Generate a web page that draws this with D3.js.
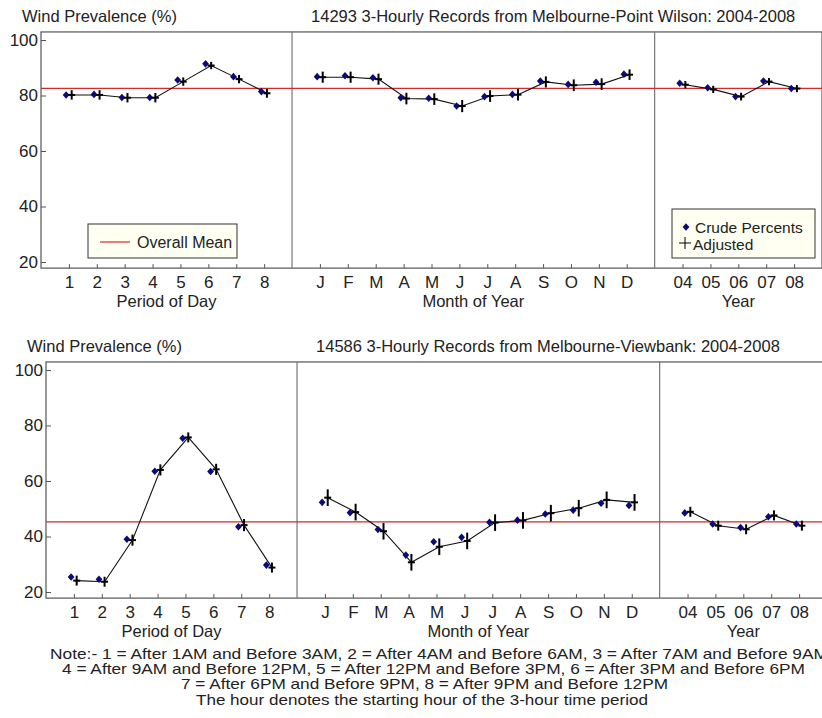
<!doctype html>
<html>
<head>
<meta charset="utf-8">
<title>Wind Prevalence</title>
<script src="https://cdn.jsdelivr.net/npm/d3@7"></script>
<style>
    body { margin: 0; background: #fff; }
    svg { display: block; font-family: "Liberation Sans", Arial, sans-serif; }
</style>
</head>
<body>
<svg width="822" height="718"></svg>
<script>
    // tick labels
    var periodLabels = ["1", "2", "3", "4", "5", "6", "7", "8"];
    var monthLabels = ["J", "F", "M", "A", "M", "J", "J", "A", "S", "O", "N", "D"];
    var yearLabels = ["04", "05", "06", "07", "08"];
    var yTicks = [20, 40, 60, 80, 100];

    // Melbourne-Point Wilson
    var pwMean = 82.6;
    var pwPeriodCrude = [80.2, 80.4, 79.3, 79.3, 85.6, 91.4, 86.8, 81.4];
    var pwPeriodAdj = [80.2, 80.2, 79.2, 79.2, 85.0, 90.8, 85.9, 80.8];
    var pwPeriodErr = [1.7, 1.7, 1.7, 1.7, 1.5, 1.3, 1.5, 1.6];
    var pwMonthCrude = [86.8, 87.1, 86.4, 79.2, 79.0, 76.2, 79.6, 80.4, 85.2, 84.0, 84.8, 87.7];
    var pwMonthAdj = [86.6, 86.6, 85.9, 78.9, 78.7, 76.2, 79.8, 80.3, 84.9, 83.7, 84.1, 87.5];
    var pwMonthErr = [2.0, 2.0, 2.0, 2.1, 2.1, 2.2, 2.1, 2.1, 2.0, 2.1, 2.1, 1.9];
    var pwYearCrude = [84.4, 82.8, 79.6, 85.2, 82.5];
    var pwYearAdj = [83.9, 82.2, 79.6, 85.0, 82.5];
    var pwYearErr = [1.3, 1.3, 1.4, 1.3, 1.3];

    // Melbourne-Viewbank
    var vbMean = 45.3;
    var vbPeriodCrude = [25.4, 24.6, 39.0, 63.5, 75.4, 63.4, 43.5, 29.7];
    var vbPeriodAdj = [24.1, 23.7, 38.7, 64.0, 75.7, 64.2, 44.1, 28.8];
    var vbPeriodErr = [1.8, 1.8, 2.0, 2.0, 1.8, 2.0, 2.2, 1.8];
    var vbMonthCrude = [52.3, 48.6, 42.5, 33.3, 38.1, 39.7, 45.1, 45.9, 48.1, 49.5, 52.0, 51.2];
    var vbMonthAdj = [54.0, 48.8, 41.9, 30.7, 36.3, 38.4, 45.0, 45.8, 48.4, 50.2, 53.2, 52.3];
    var vbMonthErr = [3.0, 3.0, 3.0, 3.0, 3.0, 3.0, 3.0, 3.0, 3.0, 3.0, 3.0, 3.0];
    var vbYearCrude = [48.5, 44.5, 43.2, 47.1, 44.5];
    var vbYearAdj = [48.9, 43.9, 42.6, 47.6, 43.9];
    var vbYearErr = [1.8, 1.8, 1.8, 1.8, 1.8];

    var noteLines = [
        "Note:- 1 = After 1AM and Before 3AM, 2 = After 4AM and Before 6AM, 3 = After 7AM and Before 9AM",
        "4 = After 9AM and Before 12PM, 5 = After 12PM and Before 3PM, 6 = After 3PM and Before 6PM",
        "7 = After 6PM and Before 9PM, 8 = After 9PM and Before 12PM",
        "The hour denotes the starting hour of the 3-hour time period"
    ];

    var svg = d3.select("svg");
    var textColor = "#222";

    function diamond(cx, cy) {
        return "M" + cx + "," + (cy - 3.8) + "L" + (cx + 3.4) + "," + cy +
            "L" + cx + "," + (cy + 3.8) + "L" + (cx - 3.4) + "," + cy + "Z";
    }

    function drawPanel(cfg) {
        var g = svg.append("g");
        var x = d3.scaleLinear().domain([0, 28]).range([cfg.left, cfg.right]);
        var y = d3.scaleLinear().domain([20, 100]).range([cfg.y20, cfg.y100]);
        var top = y(102.9), bottom = y(17.8);

        var groups = [
            {start: 0, labels: periodLabels, crude: cfg.period[0], adj: cfg.period[1], err: cfg.period[2], name: "Period of Day"},
            {start: 9, labels: monthLabels, crude: cfg.month[0], adj: cfg.month[1], err: cfg.month[2], name: "Month of Year"},
            {start: 22, labels: yearLabels, crude: cfg.year[0], adj: cfg.year[1], err: cfg.year[2], name: "Year"}
        ];

        // titles
        g.append("text").attr("x", cfg.left - 19).attr("y", top - 10)
            .attr("font-size", 16.5).attr("fill", textColor).text("Wind Prevalence (%)");
        g.append("text").attr("x", x(9) + 19).attr("y", top - 10)
            .attr("font-size", 16.5).attr("fill", textColor).text(cfg.title);

        // frame + separators
        g.append("rect").attr("x", cfg.left).attr("y", top)
            .attr("width", cfg.right - cfg.left).attr("height", bottom - top)
            .attr("fill", "none").attr("stroke", "#555").attr("stroke-width", 1.2);
        [9, 22].forEach(function (s) {
            g.append("line").attr("x1", x(s)).attr("x2", x(s)).attr("y1", top).attr("y2", bottom)
                .attr("stroke", "#777").attr("stroke-width", 1.2);
        });

        // y axis
        var yAxis = g.append("g").attr("transform", "translate(" + cfg.left + ",0)")
            .call(d3.axisLeft(y).tickValues(yTicks).tickSizeInner(-5).tickSizeOuter(0).tickPadding(3));
        yAxis.select(".domain").remove();
        yAxis.selectAll("line").attr("stroke", "#555");
        yAxis.selectAll("text").attr("font-size", 17).attr("fill", textColor)
            .attr("font-family", "Liberation Sans, Arial, sans-serif");

        // x axes
        groups.forEach(function (grp) {
            var pos = grp.labels.map(function (d, i) { return grp.start + i + 1; });
            var xAxis = g.append("g").attr("transform", "translate(0," + bottom + ")")
                .call(d3.axisBottom(x).tickValues(pos).tickSizeInner(-4).tickSizeOuter(0).tickPadding(8)
                    .tickFormat(function (d) { return grp.labels[d - grp.start - 1]; }));
            xAxis.select(".domain").remove();
            xAxis.selectAll("line").attr("stroke", "#555");
            xAxis.selectAll("text").attr("font-size", 17).attr("fill", textColor)
                .attr("font-family", "Liberation Sans, Arial, sans-serif");
            g.append("text").attr("x", x(grp.start + (grp.labels.length + 1) / 2)).attr("y", bottom + 39)
                .attr("text-anchor", "middle").attr("font-size", 16.5).attr("fill", textColor).text(grp.name);
        });

        // overall mean
        g.append("line").attr("x1", cfg.left).attr("x2", cfg.right)
            .attr("y1", y(cfg.mean)).attr("y2", y(cfg.mean))
            .attr("stroke", "#d42a2a").attr("stroke-width", 1.2);

        groups.forEach(function (grp) {
            var pts = grp.adj.map(function (v, i) { return [x(grp.start + i + 1.1), y(v)]; });
            g.append("path").attr("d", d3.line()(pts))
                .attr("fill", "none").attr("stroke", "#111").attr("stroke-width", 1.1);

            g.selectAll(null).data(grp.crude).enter().append("path")
                .attr("d", function (v, i) { return diamond(x(grp.start + i + 0.9), y(v)); })
                .attr("fill", "#0a0a78");

            grp.adj.forEach(function (v, i) {
                var cx = x(grp.start + i + 1.1);
                g.append("line").attr("x1", cx).attr("x2", cx)
                    .attr("y1", y(v - grp.err[i])).attr("y2", y(v + grp.err[i]))
                    .attr("stroke", "#000").attr("stroke-width", 2);
                g.append("line").attr("x1", cx - 3.5).attr("x2", cx + 3.5)
                    .attr("y1", y(v)).attr("y2", y(v))
                    .attr("stroke", "#000").attr("stroke-width", 2);
            });
        });
        return {x: x, y: y, top: top, bottom: bottom};
    }

    drawPanel({
        left: 41, right: 822, y100: 40, y20: 262, mean: pwMean,
        title: "14293 3-Hourly Records from Melbourne-Point Wilson: 2004-2008",
        period: [pwPeriodCrude, pwPeriodAdj, pwPeriodErr],
        month: [pwMonthCrude, pwMonthAdj, pwMonthErr],
        year: [pwYearCrude, pwYearAdj, pwYearErr]
    });
    drawPanel({
        left: 46, right: 827, y100: 370, y20: 592, mean: vbMean,
        title: "14586 3-Hourly Records from Melbourne-Viewbank: 2004-2008",
        period: [vbPeriodCrude, vbPeriodAdj, vbPeriodErr],
        month: [vbMonthCrude, vbMonthAdj, vbMonthErr],
        year: [vbYearCrude, vbYearAdj, vbYearErr]
    });

    // legend: overall mean
    var leg1 = svg.append("g");
    leg1.append("rect").attr("x", 88).attr("y", 224).attr("width", 149).attr("height", 34)
        .attr("fill", "#fffff2").attr("stroke", "#333");
    leg1.append("line").attr("x1", 100).attr("x2", 130).attr("y1", 242).attr("y2", 242)
        .attr("stroke", "#d42a2a").attr("stroke-width", 1.2);
    leg1.append("text").attr("x", 137).attr("y", 248).attr("font-size", 16).attr("fill", textColor)
        .text("Overall Mean");

    // legend: markers
    var leg2 = svg.append("g");
    leg2.append("rect").attr("x", 672).attr("y", 209).attr("width", 143).attr("height", 49)
        .attr("fill", "#fffff2").attr("stroke", "#333");
    leg2.append("path").attr("d", diamond(686, 227)).attr("fill", "#0a0a78");
    leg2.append("text").attr("x", 695).attr("y", 233).attr("font-size", 15.5).attr("fill", textColor)
        .text("Crude Percents");
    leg2.append("line").attr("x1", 679).attr("x2", 691).attr("y1", 243).attr("y2", 243).attr("stroke", "#000");
    leg2.append("line").attr("x1", 685).attr("x2", 685).attr("y1", 237).attr("y2", 249).attr("stroke", "#000");
    leg2.append("text").attr("x", 693).attr("y", 249.5).attr("font-size", 15.5).attr("fill", textColor)
        .text("Adjusted");

    // note
    var notePos = [[50, 778], [62, 743], [181, 487], [196, 452]];
    svg.append("g").selectAll("text").data(noteLines).enter().append("text")
        .attr("x", function (d, i) { return notePos[i][0]; })
        .attr("y", function (d, i) { return 658.5 + i * 15.4; })
        .attr("textLength", function (d, i) { return notePos[i][1]; })
        .attr("lengthAdjust", "spacingAndGlyphs")
        .attr("font-family", "'Liberation Sans Narrow', 'Liberation Sans', Arial, sans-serif")
        .attr("font-size", 15).attr("fill", textColor)
        .text(function (d) { return d; });
</script>
</body>
</html>
